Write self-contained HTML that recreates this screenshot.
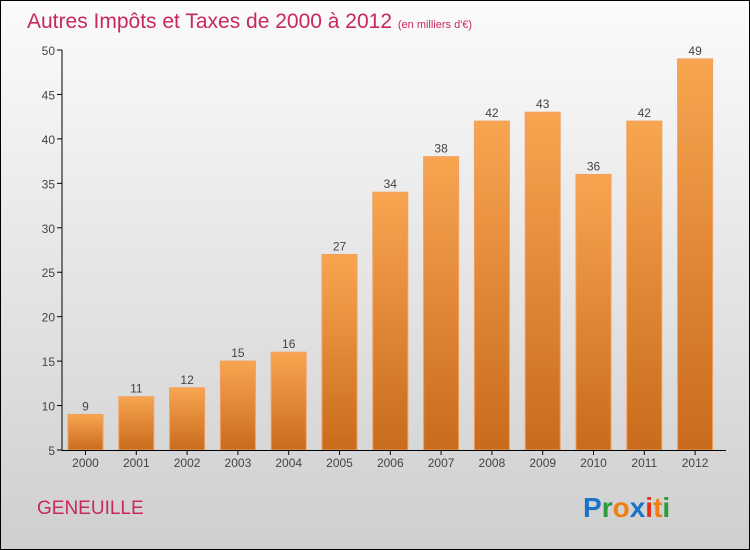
<!DOCTYPE html>
<html><head><meta charset="utf-8"><style>
body{margin:0}
#c{position:relative;width:748px;height:548px;border:1px solid #000;background:linear-gradient(#fbfbfb,#f0f0f0 25%,#cfcfcf);overflow:hidden;font-family:"Liberation Sans",sans-serif}
</style></head><body>
<div id="c">
<svg width="748" height="548" style="position:absolute;left:0;top:0" id="svg">
<defs><linearGradient id="bg" x1="0" y1="0" x2="0" y2="1"><stop offset="0" stop-color="#f8a550"/><stop offset="1" stop-color="#c96b1c"/></linearGradient></defs>
<text x="26" y="27" font-size="21" fill="#c8285a">Autres Impôts et Taxes de 2000 à 2012 <tspan font-size="11">(en milliers d'€)</tspan></text>
<text x="36" y="513" font-size="19" fill="#c8285a">GENEUILLE</text>
<text x="582" y="516" font-size="28" font-weight="bold"><tspan fill="#1a73c8">P</tspan><tspan fill="#2a9a3a">r</tspan><tspan fill="#f07f10">o</tspan><tspan fill="#1a73c8">x</tspan><tspan fill="#e03020">i</tspan><tspan fill="#f07f10">t</tspan><tspan fill="#2a9a3a">i</tspan></text>
<g id="g"></g>
</svg></div>
<script>
const categories=["2000","2001","2002","2003","2004","2005","2006","2007","2008","2009","2010","2011","2012"];
const values=[9,11,12,15,16,27,34,38,42,43,36,42,49];
const yTicks=[5,10,15,20,25,30,35,40,45,50];
const ns="http://www.w3.org/2000/svg";
const g=document.getElementById('g');
const y=v=>449-(v-5)*400/45;
const xc=i=>84.5+i*50.8;
function mk(t,a){const e=document.createElementNS(ns,t);for(const k in a)e.setAttribute(k,a[k]);g.appendChild(e);return e;}
yTicks.forEach(v=>{
 const t=mk('line',{x1:56,x2:61,y1:y(v),y2:y(v),stroke:'#000'});
 
 
 const l=mk('text',{x:54,y:y(v)+5,'font-size':12,fill:'#444','text-anchor':'end'});l.textContent=v;
 
 
});
values.forEach((v,i)=>{
 const b=mk('rect',{x:xc(i)-17.5,y:y(v),width:35,height:y(5)-y(v),fill:'url(#bg)',stroke:'#f0a060','stroke-width':1});
 
 
 const l=mk('text',{x:xc(i),y:y(v)-4,'font-size':12,fill:'#444','text-anchor':'middle'});l.textContent=v;
 
 
 const tk=mk('line',{x1:xc(i),x2:xc(i),y1:449,y2:454,stroke:'#000'});
 
 
 const c=mk('text',{x:xc(i),y:466,'font-size':12,fill:'#444','text-anchor':'middle'});c.textContent=categories[i];
 
 
});
const ya=mk('line',{x1:61,x2:61,y1:y(50),y2:450,stroke:'#000'});


const xa=mk('line',{x1:61,x2:725,y1:449.5,y2:449.5,stroke:'#000'});


</script>
</body></html>
